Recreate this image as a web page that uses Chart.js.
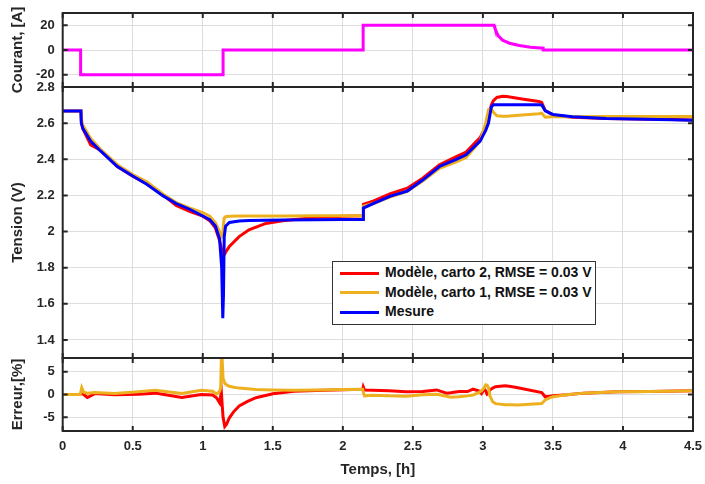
<!DOCTYPE html>
<html>
<head>
<meta charset="utf-8">
<script src="https://cdn.jsdelivr.net/npm/chart.js@4.4.1/dist/chart.umd.min.js"></script>
<style>
    body { margin: 0; background: #ffffff; }
    #wrap { position: relative; width: 705px; height: 484px; }
    #legendBox {
        position: absolute; left: 332px; top: 261px; width: 262px; height: 61px;
        border: 1px solid #333333; background: #ffffff; padding-top: 1px;
        font-family: "Liberation Sans", Arial, sans-serif; font-weight: bold; font-size: 14px; color: #111111;
    }
    #legendBox .row { height: 19.5px; line-height: 19.5px; white-space: nowrap; }
    #legendBox .swatch { display: inline-block; width: 39px; height: 3px; margin: 0 6px 0 7px; vertical-align: middle; }
</style>
</head>
<body>
<div id="wrap">
    <canvas id="myChart" width="705" height="484"></canvas>
    <div id="legendBox"></div>
</div>
<script>
// current panel (top)
var tCourant = [0, 0.128, 0.128, 1.145, 1.145, 2.145, 2.145, 3.08, 3.085, 3.095, 3.11, 3.14, 3.19, 3.26, 3.34, 3.43, 3.43, 4.5];
var courant = [0, 0, -20, -20, 0, 0, 20, 20, 18, 15, 11.5, 8, 5.5, 3.6, 2.3, 1.5, 0, 0];

// voltage panel (middle)
var tTension = [0, 0.13, 0.133, 0.143, 0.2, 0.27, 0.39, 0.5, 0.6, 0.72, 0.81, 0.91, 1.0, 1.05, 1.09, 1.12, 1.135, 1.143,
    1.148, 1.153, 1.163, 1.19, 1.26, 1.33, 1.45, 1.57, 1.8, 2.0, 2.144, 2.147, 2.22, 2.34, 2.46, 2.57, 2.69, 2.81,
    2.88, 2.98, 3.02, 3.04, 3.06, 3.075, 3.1, 3.14, 3.17, 3.28, 3.4, 3.42, 3.445, 3.5, 3.64, 3.88, 4.35, 4.5];
var tensionMesure = [2.667, 2.667, 2.60, 2.572, 2.50, 2.446, 2.36, 2.307, 2.262, 2.196, 2.155, 2.122, 2.086, 2.065, 2.03, 1.96, 1.80, 1.52,
    1.65, 1.97, 2.03, 2.05, 2.058, 2.061, 2.063, 2.064, 2.065, 2.066, 2.066, 2.13, 2.156, 2.196, 2.224, 2.285, 2.36, 2.40,
    2.425, 2.50, 2.56, 2.60, 2.69, 2.702, 2.702, 2.702, 2.702, 2.702, 2.702, 2.701, 2.668, 2.648, 2.635, 2.626, 2.619, 2.616];
var tensionCarto2 = [2.667, 2.667, 2.61, 2.57, 2.48, 2.45, 2.36, 2.306, 2.265, 2.20, 2.145, 2.11, 2.085, 2.06, 2.02, 1.95, 1.90, 1.875,
    1.865, 1.87, 1.885, 1.918, 1.972, 2.01, 2.045, 2.06, 2.078, 2.084, 2.087, 2.15, 2.17, 2.21, 2.24, 2.295, 2.37, 2.415,
    2.44, 2.52, 2.58, 2.63, 2.70, 2.725, 2.742, 2.749, 2.747, 2.733, 2.72, 2.715, 2.67, 2.645, 2.632, 2.625, 2.62, 2.618];
var tensionCarto1 = [2.667, 2.667, 2.63, 2.59, 2.515, 2.455, 2.37, 2.315, 2.275, 2.205, 2.16, 2.13, 2.105, 2.085, 2.05, 2.0, 1.975, 1.99,
    2.04, 2.075, 2.082, 2.085, 2.086, 2.086, 2.086, 2.086, 2.087, 2.087, 2.087, 2.14, 2.155, 2.192, 2.222, 2.28, 2.35, 2.385,
    2.41, 2.50, 2.60, 2.675, 2.68, 2.66, 2.641, 2.638, 2.638, 2.645, 2.652, 2.655, 2.633, 2.635, 2.636, 2.637, 2.637, 2.637];

// error panel (bottom)
var tErreur = [0, 0.125, 0.136, 0.15, 0.176, 0.23, 0.37, 0.54, 0.66, 0.85, 0.99, 1.07, 1.098, 1.12, 1.128, 1.133, 1.138, 1.145,
    1.157, 1.17, 1.19, 1.22, 1.26, 1.32, 1.38, 1.5, 1.65, 1.81, 2.0, 2.142, 2.146, 2.155, 2.21, 2.33, 2.45, 2.57, 2.67,
    2.74, 2.77, 2.83, 2.89, 2.93, 2.97, 2.99, 3.01, 3.02, 3.03, 3.04, 3.05, 3.07, 3.09, 3.16, 3.2, 3.25, 3.42, 3.445,
    3.48, 3.5, 3.6, 3.72, 3.96, 4.2, 4.5];
var erreurCarto2 = [0, 0, 0.4, 0, -0.65, 0.2, -0.07, 0.07, 0.3, -0.65, 0, -0.1, -0.7, -1.8, -0.3, 0.5, -2.0, -5.0,
    -7.0, -6.5, -5.1, -3.8, -2.5, -1.5, -0.7, 0.15, 0.7, 0.9, 1.05, 1.16, 1.7, 1.0, 0.94, 0.8, 0.6, 0.65, 1.0,
    0.3, 0.4, 0.65, 0.65, 1.16, 0.8, 0.2, 1.2, 0.8, 0.07, 0.3, 1.0, 1.4, 1.7, 1.9, 1.75, 1.5, 0.43, -0.5,
    -0.36, -0.3, -0.07, 0.3, 0.6, 0.65, 0.8];
var erreurCarto1 = [0, 0, 1.5, 0.5, 0.3, 0.43, 0.2, 0.6, 0.94, 0.2, 0.94, 0.7, 0.1, 0.7, 1.5, 8, 8, 3.5,
    2.5, 2.1, 1.8, 1.6, 1.4, 1.25, 1.1, 1.0, 0.95, 1.0, 1.1, 1.16, 0.5, -0.3, -0.15, -0.3, -0.36, -0.07, 0.07,
    -0.4, -0.6, -0.5, -0.3, -0.1, 0.4, 0.8, 1.5, 2.1, 2.0, 1.5, -0.3, -1.6, -2.0, -2.25, -2.25, -2.3, -1.96, -1.2,
    -0.7, -0.5, -0.07, 0.3, 0.6, 0.65, 0.8];

// tick labels
var xTicks = [0, 0.5, 1, 1.5, 2, 2.5, 3, 3.5, 4, 4.5];
var courantTicks = [-20, 0, 20];
var tensionTicks = [1.4, 1.6, 1.8, 2, 2.2, 2.4, 2.6, 2.8];
var erreurTicks = [-5, 0, 5];

// legend names
var nomCarto2 = 'Modèle, carto 2, RMSE = 0.03 V';
var nomCarto1 = 'Modèle, carto 1, RMSE = 0.03 V';
var nomMesure = 'Mesure';

var ROUGE = '#ff0000';
var ORANGE = '#edb120';
var BLEU = '#0000ff';
var MAGENTA = '#ff00ff';
var AXE = '#262626';
var FONT = '"Liberation Sans", Arial, sans-serif';

function toPoints(t, v) {
    return t.map(function (x, i) { return { x: x, y: v[i] }; });
}

function fixedTicks(list) {
    return function (scale) {
        scale.ticks = list.map(function (v) { return { value: v }; });
    };
}

function yAxis(min, max, weight, list, title, order) {
    return {
        type: 'linear',
        position: 'left',
        stack: 'panels',
        stackWeight: weight,
        weight: order,
        min: min,
        max: max,
        afterBuildTicks: fixedTicks(list),
        afterFit: function (scale) {
            // fixed width, and no extra room asked for the end labels
            scale.width = 58.7;
            scale.paddingTop = 0;
            scale.paddingBottom = 0;
        },
        grid: { color: '#dedede', lineWidth: 1, drawTicks: false },
        border: { display: false },
        ticks: {
            padding: 8,
            color: AXE,
            font: { family: FONT, size: 13, weight: 'bold' },
            callback: function (value) { return String(value); }
        },
        title: {
            display: true,
            text: title,
            color: AXE,
            padding: { top: 5, bottom: 0 },
            font: { family: FONT, size: 15, weight: 'bold' }
        }
    };
}

// box around every panel with small inward ticks, like matlab
var panelFrame = {
    id: 'panelFrame',
    afterDatasetsDraw: function (chart) {
        var ctx = chart.ctx;
        var area = chart.chartArea;
        var xs = chart.scales.x;
        var tl = 5;
        ctx.save();
        ctx.strokeStyle = AXE;
        ctx.lineWidth = 2;
        ['yI', 'yV', 'yE'].forEach(function (id) {
            var s = chart.scales[id];
            ctx.beginPath();
            xs.ticks.forEach(function (tk) {
                var px = xs.getPixelForValue(tk.value);
                ctx.moveTo(px, s.top); ctx.lineTo(px, s.top + tl);
                ctx.moveTo(px, s.bottom); ctx.lineTo(px, s.bottom - tl);
            });
            s.ticks.forEach(function (tk) {
                var py = s.getPixelForValue(tk.value);
                ctx.moveTo(area.left, py); ctx.lineTo(area.left + tl, py);
                ctx.moveTo(area.right, py); ctx.lineTo(area.right - tl, py);
            });
            ctx.stroke();
            ctx.strokeRect(area.left, s.top, area.right - area.left, s.bottom - s.top);
        });
        ctx.restore();
    }
};

function serie(label, t, v, color, axis, order) {
    return {
        label: label,
        data: toPoints(t, v),
        yAxisID: axis,
        borderColor: color,
        backgroundColor: color,
        borderWidth: 3,
        pointRadius: 0,
        tension: 0,
        fill: false,
        order: order
    };
}

var datasets = [
    serie('Courant', tCourant, courant, MAGENTA, 'yI', 0),
    serie(nomMesure, tTension, tensionMesure, BLEU, 'yV', 1),
    serie(nomCarto1, tTension, tensionCarto1, ORANGE, 'yV', 2),
    serie(nomCarto2, tTension, tensionCarto2, ROUGE, 'yV', 3),
    serie(nomCarto1, tErreur, erreurCarto1, ORANGE, 'yE', 4),
    serie(nomCarto2, tErreur, erreurCarto2, ROUGE, 'yE', 5)
];

var myChart = new Chart(document.getElementById('myChart'), {
    type: 'line',
    data: { datasets: datasets },
    options: {
        responsive: false,
        animation: false,
        parsing: true,
        layout: { padding: { left: 4, right: 12, top: 13, bottom: 0 } },
        plugins: { legend: { display: false }, tooltip: { enabled: false } },
        scales: {
            x: {
                type: 'linear',
                min: 0,
                max: 4.5,
                afterBuildTicks: fixedTicks(xTicks),
                afterFit: function (scale) {
                    scale.height = 53;
                    scale.paddingLeft = 0;
                    scale.paddingRight = 0;
                },
                grid: { color: '#dedede', lineWidth: 1, drawTicks: false },
                border: { display: false },
                ticks: {
                    padding: 8,
                    color: AXE,
                    maxRotation: 0,
                    font: { family: FONT, size: 13, weight: 'bold' },
                    callback: function (value) { return String(value); }
                },
                title: {
                    display: true,
                    text: 'Temps, [h]',
                    color: AXE,
                    padding: { top: 0, bottom: 5 },
                    font: { family: FONT, size: 15, weight: 'bold' }
                }
            },
            yE: yAxis(-8, 8, 73, erreurTicks, 'Erreur,[%]', 1),
            yV: yAxis(1.3, 2.8, 271, tensionTicks, 'Tension (V)', 2),
            yI: yAxis(-30, 30, 74, courantTicks, 'Courant, [A]', 3)
        }
    },
    plugins: [panelFrame]
});

// legend drawn as html inside the voltage panel
var legendItems = [[nomCarto2, ROUGE], [nomCarto1, ORANGE], [nomMesure, BLEU]];
var box = document.getElementById('legendBox');
legendItems.forEach(function (item) {
    var row = document.createElement('div');
    row.className = 'row';
    var sw = document.createElement('span');
    sw.className = 'swatch';
    sw.style.background = item[1];
    row.appendChild(sw);
    row.appendChild(document.createTextNode(item[0]));
    box.appendChild(row);
});
</script>
</body>
</html>
